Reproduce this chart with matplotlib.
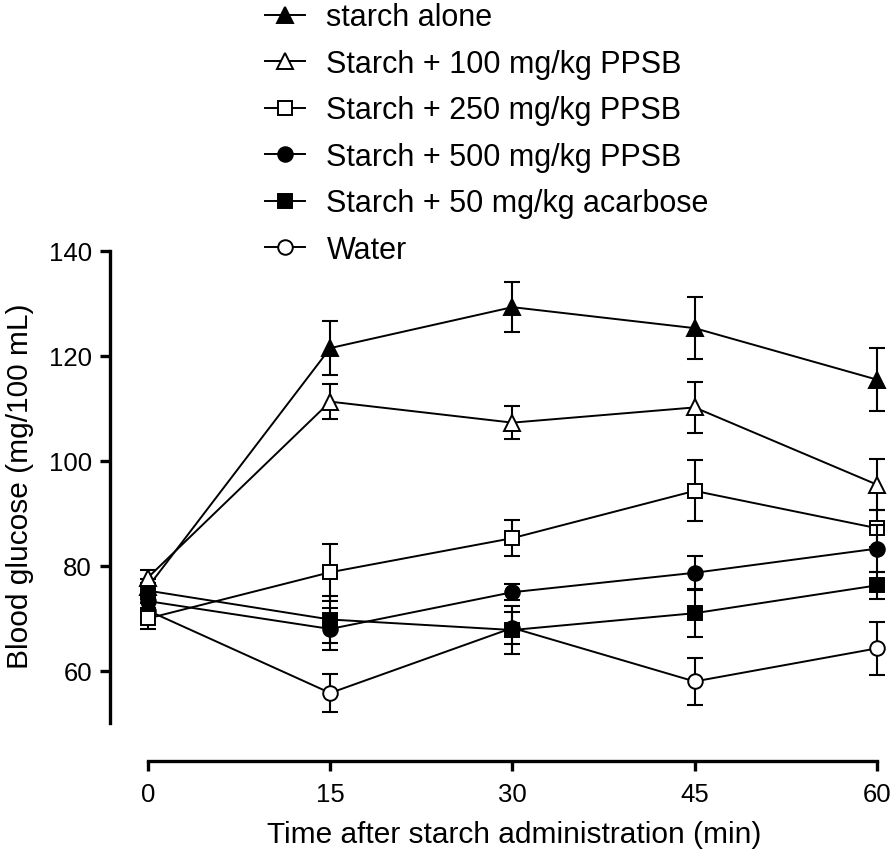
import matplotlib
matplotlib.use("Agg")
import matplotlib.pyplot as plt

# 데이터
times = [0, 15, 30, 45, 60]
labels = ["starch alone", "Starch + 100 mg/kg PPSB", "Starch + 250 mg/kg PPSB",
          "Starch + 500 mg/kg PPSB", "Starch + 50 mg/kg acarbose", "Water"]

starch_alone = [76.0, 121.5, 129.3, 125.3, 115.5]
starch_alone_sem = [1.5, 5.2, 4.7, 5.9, 6.0]
ppsb100 = [77.8, 111.3, 107.3, 110.2, 95.5]
ppsb100_sem = [1.5, 3.4, 3.1, 4.8, 4.8]
ppsb250 = [70.0, 78.8, 85.3, 94.3, 87.2]
ppsb250_sem = [2.0, 5.4, 3.4, 5.8, 3.5]
ppsb500 = [73.3, 68.0, 75.0, 78.7, 83.3]
ppsb500_sem = [1.5, 4.0, 1.5, 3.2, 4.5]
acarbose = [75.3, 69.8, 67.8, 71.0, 76.3]
acarbose_sem = [1.5, 4.5, 4.5, 4.6, 2.5]
water = [71.5, 55.8, 68.2, 58.0, 64.3]
water_sem = [1.5, 3.6, 3.0, 4.5, 5.0]

yticks = [60, 80, 100, 120, 140]
xticks = [0, 15, 30, 45, 60]

plt.rcParams['font.family'] = ['Liberation Sans', 'DejaVu Sans']

fig = plt.figure(figsize=(8.94, 8.53), dpi=100)
ax = fig.add_axes([0.1230, 0.1507, 0.8714, 0.5539])

series = [
    (starch_alone, starch_alone_sem, '^', 'black', 2, 11),
    (ppsb100, ppsb100_sem, '^', 'white', 6, 11),
    (ppsb250, ppsb250_sem, 's', 'white', 3, 10),
    (ppsb500, ppsb500_sem, 'o', 'black', 4, 10.5),
    (acarbose, acarbose_sem, 's', 'black', 5, 10),
    (water, water_sem, 'o', 'white', 1, 10.5),
]

handles = []
for (vals, sem, mk, fc, z, ms), lab in zip(series, labels):
    ax.errorbar(times, vals, yerr=sem, fmt='none', ecolor='black',
                elinewidth=1.5, capsize=5.5, capthick=1.5, zorder=z)
    h, = ax.plot(times, vals, color='black', lw=1.4, marker=mk, ms=ms,
                 mfc=fc, mec='black', mew=1.4, zorder=z + 0.5, label=lab)
    handles.append(h)

ax.set_xlim(-3.13, 61)
ax.set_ylim(50, 140)
ax.set_xticks(xticks)
ax.set_yticks(yticks)

# GraphPad 스타일 축
for s in ['top', 'right']:
    ax.spines[s].set_visible(False)
ax.spines['left'].set_linewidth(2.4)
ax.spines['bottom'].set_linewidth(2.4)
ax.spines['bottom'].set_position(('outward', 27))
ax.spines['bottom'].set_bounds(0, 60)
ax.spines['left'].set_bounds(50, 140)
ax.tick_params(axis='both', length=7, width=2.4, labelsize=18.5)
ax.tick_params(axis='x', pad=8)
ax.tick_params(axis='y', pad=6)

ax.set_ylabel("Blood glucose (mg/100 mL)", fontsize=21.5)
ax.yaxis.set_label_coords(-0.098, 0.505)
ax.set_xlabel("Time after starch administration (min)", fontsize=21.5)
ax.xaxis.set_label_coords(0.5186, -0.205)

fig.legend(handles=handles, loc='upper left', bbox_to_anchor=(265 / 894, 0.996),
           frameon=False, fontsize=22, handlelength=1.31, handletextpad=0.7,
           labelspacing=0.54, borderpad=0, borderaxespad=0)

fig.savefig("out.png", dpi=100)
